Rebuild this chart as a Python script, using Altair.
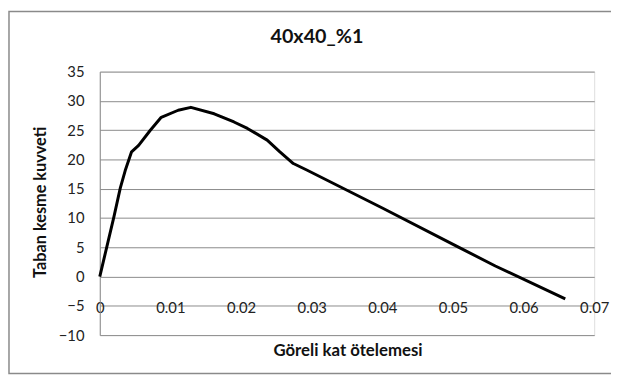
import altair as alt
import pandas as pd

# Data
drift = [0, 0.0020, 0.0029, 0.0036, 0.0045, 0.0055, 0.0071, 0.0087, 0.0111, 0.0129,
         0.0162, 0.0190, 0.0209, 0.0237, 0.0255, 0.0274, 0.0293, 0.0400, 0.0505, 0.0560, 0.0659]
shear = [0, 10.2, 15.1, 18.1, 21.3, 22.4, 24.9, 27.2, 28.4, 28.9,
         27.8, 26.4, 25.3, 23.3, 21.3, 19.3, 18.2, 11.7, 5.2, 1.8, -3.8]
y_ticks = [-10, -5, 0, 5, 10, 15, 20, 25, 30, 35]
x_ticks = [0, 0.01, 0.02, 0.03, 0.04, 0.05, 0.06, 0.07]
chart_title = ["40x40_%1"]

df = pd.DataFrame({"x": drift, "y": shear, "order": list(range(len(drift)))})

W, H = 501, 267
PL, PT, PR, PB = 93, 62, 17, 40
FONT = "Lato"

line = alt.Chart(df).mark_line(color="black", strokeWidth=3, strokeJoin="round").encode(
    x=alt.X("x:Q", scale=alt.Scale(domain=[0, 0.07], nice=False),
            axis=alt.Axis(values=x_ticks, format=".2~f", grid=False, domain=False, ticks=False,
                          labelFlush=False, labelOverlap=False,
                          labelBaseline="middle", labelPadding=-28.4, labelFontSize=15,
                          labelColor="#222222", labelFont=FONT,
                          title="Göreli kat ötelemesi", titleFont=FONT, titleFontSize=17,
                          titleFontWeight="bold", titleColor="#111111",
                          titleBaseline="middle", titleY=16, titleX=251)),
    y=alt.Y("y:Q", scale=alt.Scale(domain=[-10, 35], nice=False),
            axis=alt.Axis(values=y_ticks, grid=True, gridColor="#8a8a8a", gridWidth=1,
                          domain=True, domainColor="#8a8a8a", ticks=False,
                          labelPadding=16, labelFontSize=15, labelColor="#222222", labelFont=FONT,
                          title="Taban kesme kuvveti", titleFont=FONT, titleFontSize=16.5,
                          titleFontWeight="bold", titleColor="#111111",
                          titleBaseline="middle", titleX=-60, titleY=132)),
    order="order:Q",
)

border = alt.Chart(pd.DataFrame({"a": [0]})).mark_rect(
    fill=None, stroke="#8a8a8a", strokeWidth=1.5).encode(
    x=alt.value(-PL + 1), x2=alt.value(W + PR + 10),
    y=alt.value(-PT + 1), y2=alt.value(H + PB - 1),
)

title = alt.Chart(pd.DataFrame({"t": chart_title})).mark_text(
    font=FONT, fontSize=20, fontWeight="bold", color="#111111",
    align="center", baseline="alphabetic").encode(
    text="t:N", x=alt.value(220), y=alt.value(-29),
)

chart = alt.layer(border, title, line).properties(
    width=W, height=H,
    autosize=alt.AutoSizeParams(type="none"),
    padding={"left": PL, "top": PT, "right": PR, "bottom": PB},
).configure_view(stroke=None).configure(background="white")

chart.save("out.html", embed_options={"renderer": "svg", "actions": False})
